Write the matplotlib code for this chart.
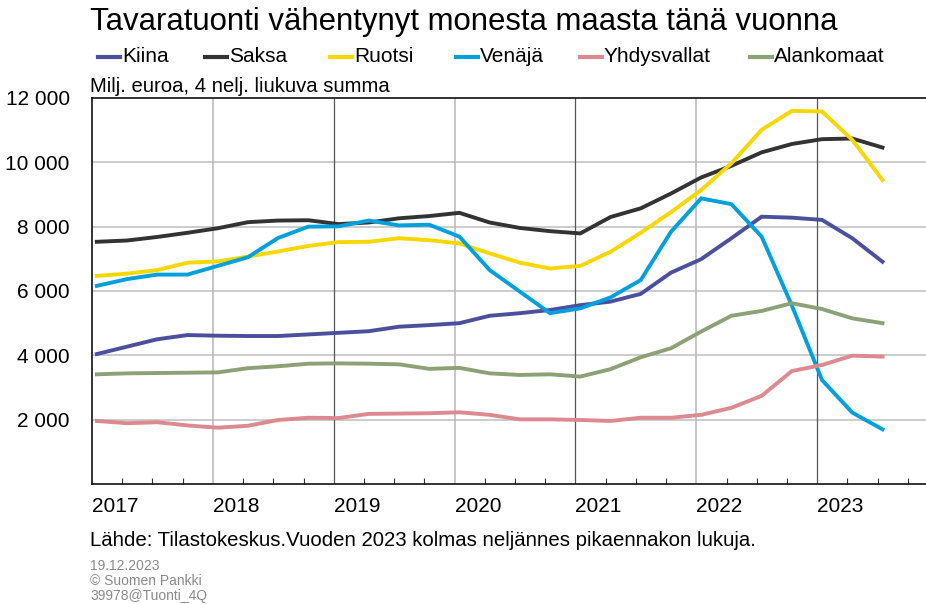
import numpy as np
import matplotlib.pyplot as plt
from matplotlib.lines import Line2D

plt.rcParams['font.family'] = ['Liberation Sans', 'DejaVu Sans']

# Quarterly data 2017Q1 - 2023Q3, milj. euroa (4 nelj. liukuva summa)
quarters = np.arange(2017, 2023.75, 0.25) + 0.04

kiina = [4040, 4270, 4500, 4630, 4610, 4600, 4600, 4650, 4700, 4750,
         4890, 4940, 5000, 5230, 5310, 5410, 5560, 5670, 5910, 6570,
         6990, 7640, 8310, 8280, 8210, 7640, 6910]
saksa = [7530, 7570, 7680, 7810, 7950, 8140, 8190, 8200, 8080, 8130,
         8260, 8330, 8430, 8130, 7960, 7860, 7790, 8300, 8570, 9030,
         9530, 9890, 10310, 10570, 10720, 10740, 10460]
ruotsi = [6470, 6540, 6650, 6880, 6920, 7070, 7230, 7400, 7520, 7530,
          7640, 7580, 7480, 7170, 6880, 6700, 6780, 7220, 7810, 8450,
          9140, 9970, 11010, 11600, 11580, 10700, 9450]
venaja = [6160, 6370, 6510, 6510, 6780, 7050, 7650, 8000, 8010, 8190,
          8040, 8060, 7690, 6650, 5980, 5310, 5460, 5800, 6340, 7840,
          8880, 8700, 7690, 5550, 3230, 2220, 1700]
yhdysvallat = [1960, 1890, 1920, 1820, 1750, 1810, 1990, 2060, 2050, 2180,
               2190, 2200, 2230, 2150, 2010, 2010, 1990, 1960, 2060, 2060,
               2150, 2370, 2740, 3510, 3700, 3990, 3960]
alankomaat = [3410, 3440, 3450, 3460, 3470, 3600, 3660, 3740, 3750, 3740,
              3720, 3580, 3610, 3440, 3390, 3410, 3340, 3570, 3940, 4220,
              4740, 5230, 5380, 5620, 5440, 5150, 5000]

names = ['Kiina', 'Saksa', 'Ruotsi', 'Venäjä', 'Yhdysvallat', 'Alankomaat']
series = [kiina, saksa, ruotsi, venaja, yhdysvallat, alankomaat]
colors = ['#4b4f9c', '#333333', '#f6d800', '#00a0dc', '#dc8a90', '#8da176']
years = [2017, 2018, 2019, 2020, 2021, 2022, 2023]

fig = plt.figure(figsize=(9.26, 6.04), dpi=100)
ax = fig.add_axes([92 / 926, 1 - 484 / 604, 1 - 92 / 926, (484 - 98) / 604])

# grid
for v in range(2000, 12000, 2000):
    ax.axhline(v, color='#c8c8c8', lw=1.3, zorder=0)
for yr in years[1:]:
    dark = yr % 2 == 1
    ax.axvline(yr, color='#555555' if dark else '#bcbcbc', lw=0.9 if dark else 1.2, zorder=0)

for vals, col in zip(series, colors):
    ax.plot(quarters, vals, color=col, lw=2.8, solid_joinstyle='miter', zorder=3)

ax.set_xlim(2017, 2023.9)
ax.set_ylim(0, 12000)
ax.set_yticks(range(2000, 12001, 2000))
ax.set_yticklabels([f'{v:,}'.replace(',', ' ') for v in range(2000, 12001, 2000)], fontsize=15)
ax.tick_params(axis='y', length=0, pad=16)

ax.set_xticks(years)
ax.set_xticklabels([str(y) for y in years], fontsize=15, ha='left')
ax.set_xticks(np.arange(2017, 2024, 0.25), minor=True)
ax.tick_params(axis='x', which='major', length=0, pad=9)
ax.tick_params(axis='x', which='minor', direction='in', length=4, width=0.8, color='#333333')

ax.spines['right'].set_visible(False)
for s in ['left', 'bottom', 'top']:
    ax.spines[s].set_linewidth(1.2)
    ax.spines[s].set_color('#111111')

# texts
fig.text(90 / 926, 1 - 22 / 604, 'Tavaratuonti vähentynyt monesta maasta tänä vuonna',
         fontsize=22.4, va='center', ha='left')
fig.text(90 / 926, 1 - 86 / 604, 'Milj. euroa, 4 nelj. liukuva summa',
         fontsize=14.6, va='center', ha='left')

# legend drawn by hand at the reference slots
leg_x = [98, 205, 330, 456, 580, 750]
for name, col, x0 in zip(names, colors, leg_x):
    fig.add_artist(Line2D([x0 / 926, (x0 + 22) / 926], [1 - 57 / 604] * 2,
                          color=col, lw=3, transform=fig.transFigure))
    fig.text((x0 + 24) / 926, 1 - 57 / 604, name, fontsize=15, va='center', ha='left')

fig.text(90 / 926, 1 - 541 / 604,
         'Lähde: Tilastokeskus.Vuoden 2023 kolmas neljännes pikaennakon lukuja.',
         fontsize=14.7, va='center', ha='left')
fig.text(90 / 926, 1 - 566 / 604, '19.12.2023', fontsize=10, color='#8a8a8a', va='center')
fig.text(90 / 926, 1 - 581 / 604, '© Suomen Pankki', fontsize=10, color='#8a8a8a', va='center')
fig.text(90 / 926, 1 - 596 / 604, '39978@Tuonti_4Q', fontsize=10, color='#8a8a8a', va='center')

fig.savefig('out.png', dpi=100)
